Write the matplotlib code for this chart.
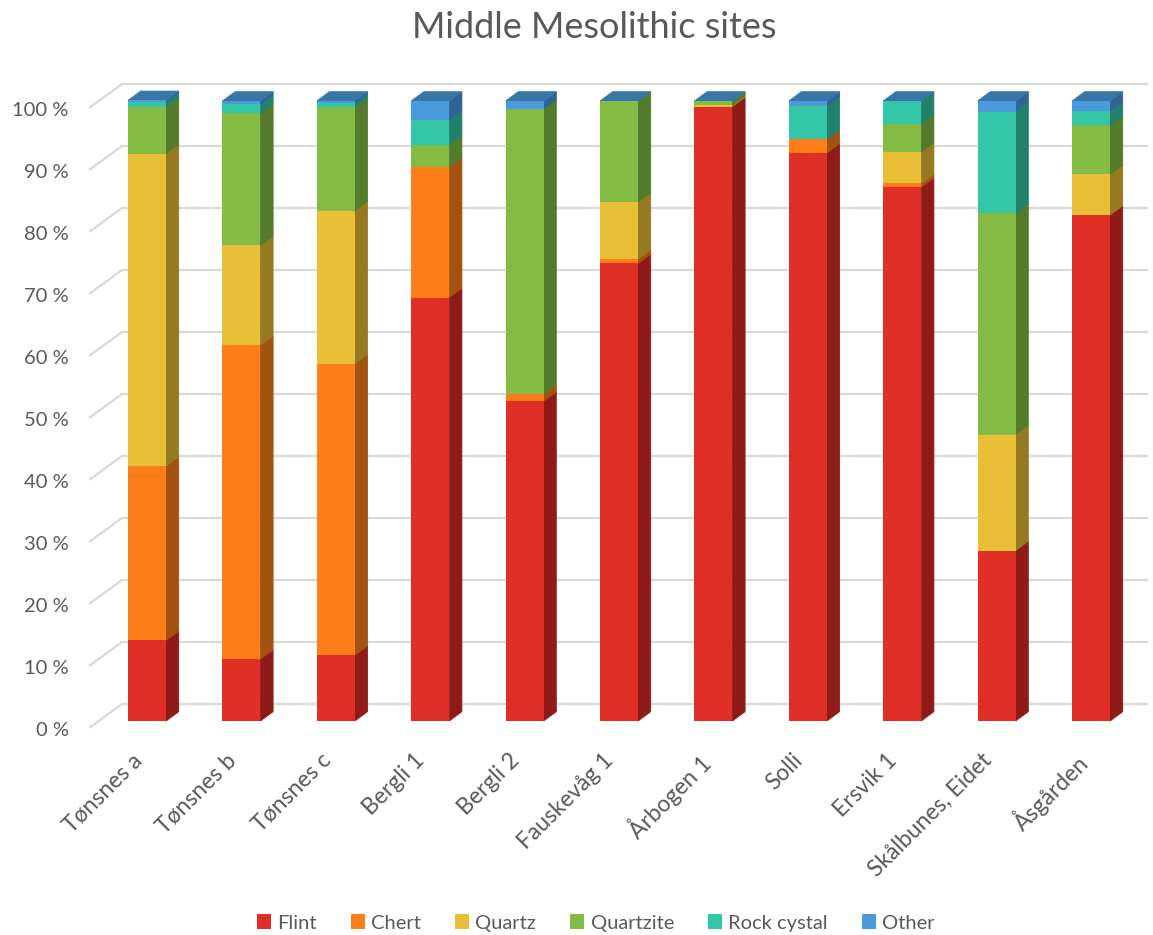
import matplotlib
matplotlib.use("Agg")
import matplotlib.pyplot as plt
import numpy as np
from matplotlib.patches import Polygon, Patch

plt.rcParams['font.family'] = ['Lato', 'DejaVu Sans']

sites = ['Tønsnes a', 'Tønsnes b', 'Tønsnes c', 'Bergli 1', 'Bergli 2', 'Fauskevåg 1',
         'Årbogen 1', 'Solli', 'Ersvik 1', 'Skålbunes, Eidet', 'Åsgården']
materials = ['Flint', 'Chert', 'Quartz', 'Quartzite', 'Rock cystal', 'Other']

flint = [13.0, 10.0, 10.6, 68.3, 51.6, 73.8, 99.1, 91.6, 86.1, 27.5, 81.6]
chert = [28.1, 50.6, 47.0, 21.0, 1.1, 0.7, 0.0, 2.2, 0.6, 0.0, 0.0]
quartz = [50.4, 16.1, 24.7, 0.0, 0.0, 9.2, 0.3, 0.0, 5.1, 18.7, 6.6]
quartzite = [7.6, 21.3, 16.7, 3.6, 46.0, 16.3, 0.6, 0.0, 4.5, 35.7, 7.9]
rock_crystal = [0.7, 1.5, 0.6, 4.1, 0.0, 0.0, 0.0, 5.4, 3.7, 16.4, 2.3]
other = [0.3, 0.5, 0.4, 3.0, 1.3, 0.0, 0.0, 0.8, 0.0, 1.7, 1.6]

front_colors = ['#df2f27', '#fe7f1a', '#e8bf36', '#84bb44', '#33c7a7', '#4a9bdc']
side_colors = ['#8f1b19', '#a35210', '#957a22', '#527b2b', '#21816d', '#2f6495']
top_color = '#3876a8'
grid_color = '#d9d9d9'
text_color = '#595959'

series = [flint, chert, quartz, quartzite, rock_crystal, other]

W, H = 1153, 935
fig = plt.figure(figsize=(W / 100, H / 100), dpi=100)

# pixel layout of the plot (Excel 3-D column look)
px_x, px_y = 94.4, 6.2        # pixels per category / per percent
x0_px, y0_px = 147, 721       # first bar centre, 0 % on the bar fronts
ax_l, ax_r, ax_t, ax_b = 0, W, 60, 770
ax = fig.add_axes([ax_l / W, (H - ax_b) / H, (ax_r - ax_l) / W, (ax_b - ax_t) / H])
ax.set_xlim((ax_l - x0_px) / px_x, (ax_r - x0_px) / px_x)
ax.set_ylim((y0_px - ax_b) / px_y, (y0_px - ax_t) / px_y)
ax.axis('off')

bar_w = 38 / px_x
dep_x, dep_y = 12.7 / px_x, 9.3 / px_y          # bar depth
front_x, front_y = -9.6 / px_x, -7 / px_y       # front plane vs bar front
back_x, back_y = 23.4 / px_x, 17 / px_y         # back wall vs bar front
right_x = (1148 - x0_px) / px_x

# gridlines: diagonal on the side, line on the back wall
for v in range(0, 101, 10):
    ax.plot([front_x - 0.512, back_x - 0.512, right_x],
            [v + front_y, v + back_y, v + back_y],
            color=grid_color, lw=1.6, zorder=1, solid_capstyle='butt')
    ax.text(-0.83, v - 1.5, f'{v} %', ha='right', va='center',
            fontsize=14.5, color=text_color)

x = np.arange(len(sites))
bottom = np.zeros(len(sites))
for vals, fc, sc, name in zip(series, front_colors, side_colors, materials):
    vals = np.array(vals)
    ax.bar(x, vals, bar_w, bottom=bottom, color=fc, zorder=3, label=name)
    for xi, b, h in zip(x, bottom, vals):
        if h <= 0:
            continue
        xr = xi + bar_w / 2
        ax.add_patch(Polygon([(xr, b), (xr + dep_x, b + dep_y),
                              (xr + dep_x, b + h + dep_y), (xr, b + h)],
                             closed=True, facecolor=sc, edgecolor=sc, lw=0.6, zorder=2))
    bottom = bottom + vals

for xi, t in zip(x, bottom):
    xl, xr = xi - bar_w / 2, xi + bar_w / 2
    ax.add_patch(Polygon([(xl, t), (xr, t), (xr + dep_x, t + dep_y), (xl + dep_x, t + dep_y)],
                         closed=True, facecolor=top_color, edgecolor=top_color, lw=0.6, zorder=2))

for xi, name in zip(x, sites):
    ax.text(xi - 0.17, -4.6, name, rotation=45, rotation_mode='anchor',
            ha='right', va='top', fontsize=16.5, color=text_color)

fig.text(594 / W, 1 - 28 / H, 'Middle Mesolithic sites', ha='center', va='center',
         fontsize=26, color=text_color)

handles = [Patch(facecolor=c, edgecolor='none') for c in front_colors]
fig.legend(handles, materials, loc='center', bbox_to_anchor=(596 / W, 1 - 923 / H),
           ncol=6, frameon=False, fontsize=14.5, handlelength=0.7, handleheight=0.7,
           handletextpad=0.3, columnspacing=1.7, labelcolor=text_color)

fig.savefig('out.png', dpi=100)
